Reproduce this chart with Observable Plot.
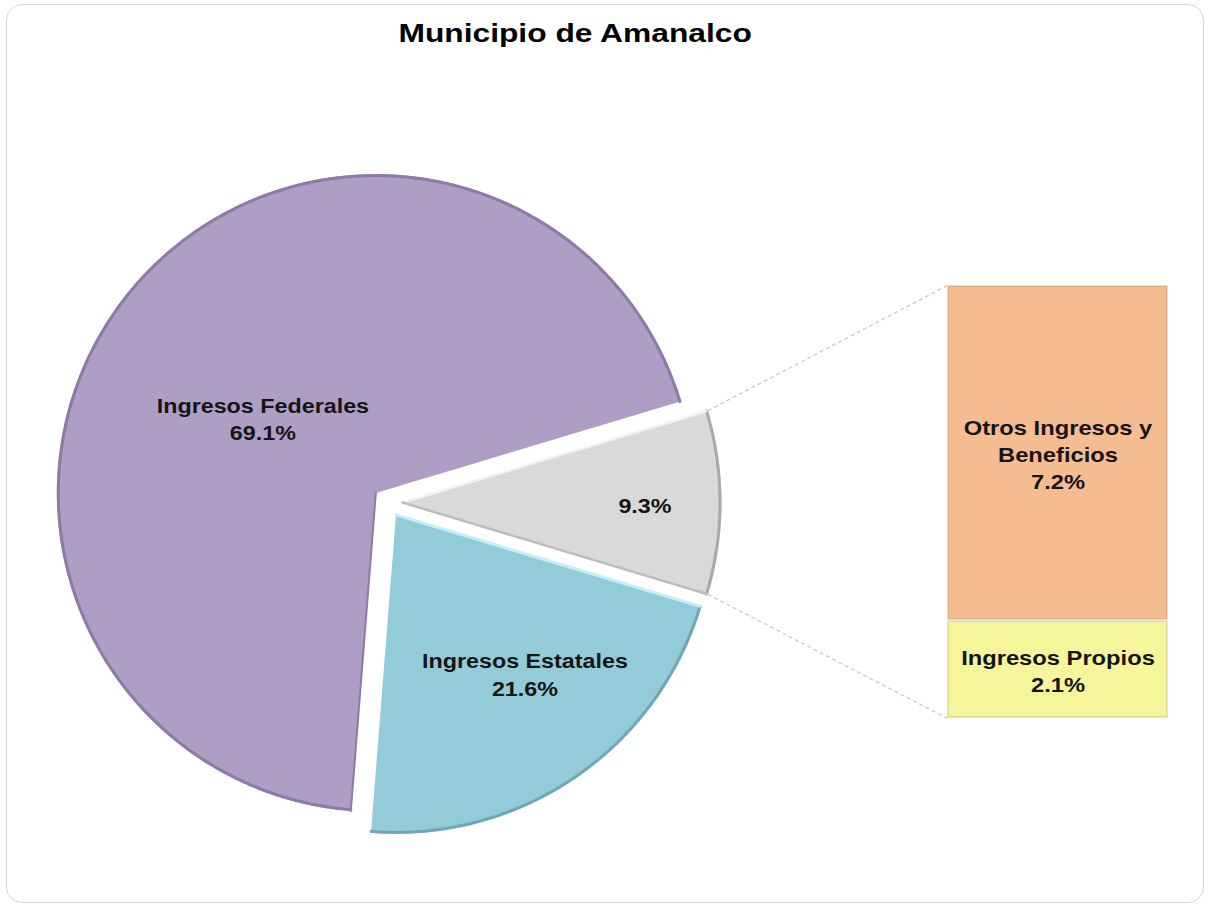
<!DOCTYPE html>
<html>
<head>
<meta charset="utf-8">
<script src="https://cdn.jsdelivr.net/npm/d3@7"></script>
<script src="https://cdn.jsdelivr.net/npm/@observablehq/plot@0.6"></script>
<style>
  html, body { margin: 0; padding: 0; background: #ffffff; }
  #wrap { position: relative; width: 1205px; height: 905px; overflow: hidden;
          font-family: "Liberation Sans", Arial, sans-serif; }
  #frame { position: absolute; left: 6px; top: 4px; width: 1198px; height: 899px;
           border: 1px solid #d6d6d6; border-radius: 16px; box-sizing: border-box;
           pointer-events: none; z-index: 5; }
  #title { position: absolute; top: 21px; left: 0; width: 1150px; height: 25px;
           line-height: 25px; text-align: center; font-weight: bold; font-size: 25px; color: #000; }
  #title span { display: inline-block; transform: scaleX(1.27); }
  #chart { position: absolute; left: 0; top: 60px; width: 1205px; height: 845px; }
  #chart svg { position: absolute; left: 0; top: 0; background: transparent !important; }
</style>
</head>
<body>
<div id="wrap">
  <div id="title"><span>Municipio de Amanalco</span></div>
  <div id="chart"></div>
  <div id="frame"></div>
</div>
<script>
// ---------------- data ----------------
const pieNames  = ["Ingresos Federales", "Ingresos Estatales", "Otros"];
const pieShares = [69.1, 21.6, 9.3];
const pieLabels = ["Ingresos Federales\n69.1%", "Ingresos Estatales\n21.6%", "9.3%"];
const pieColors = ["#ae9dc4", "#94cbd9", "#d9d9d8"];

const barNames  = ["Ingresos Propios", "Otros Ingresos y Beneficios"];
const barShares = [2.1, 7.2];
const barLabels = ["Ingresos Propios\n2.1%", "Otros Ingresos y\nBeneficios\n7.2%"];
const barColors = ["#f6f59b", "#f5bc92"];

// ---------------- layout ----------------
const W = 1205, H = 845, TOP = 60;
const CX = 387, CY = 502, R = 319, EXPLODE = 15;
const BAR_L = 947, BAR_R = 1168, BAR_T = 285, BAR_B = 718;
const labelRadius = [0.425, 0.64, 0.76];
const labelShift  = [-5.3, -4.8, 0.5];
const edgeColors  = ["#8d7ba6", "#6fa7b6", "#a9a9a9"];

const rad = Math.PI / 180;
const pt = (c, a, r) => ({x: c.x + r * Math.sin(a * rad), y: c.y - r * Math.cos(a * rad)});

// slices clockwise from north; "Otros" centred on 3 o'clock
const total = d3.sum(pieShares);
const order = [2, 1, 0];
let start = 90 - pieShares[2] / total * 180;
const slices = [];
for (const i of order) {
  const sweep = pieShares[i] / total * 360;
  const mid = start + sweep / 2;
  const apex = pt({x: CX, y: CY}, mid, EXPLODE);
  const arc = d3.range(start, start + sweep, 0.5).concat([start + sweep]).map(a => pt(apex, a, R));
  slices[i] = {a0: start, a1: start + sweep, mid, apex, arc, poly: [apex, ...arc]};
  start += sweep;
}

const marksA = [];
slices.forEach((s, i) => {
  marksA.push(Plot.line(s.poly, {x: "x", y: "y", fill: pieColors[i], stroke: "none", curve: "linear-closed"}));
});
// bevel-like edges
slices.forEach((s, i) => {
  const inner = s.arc.map((p, k) => pt(s.apex, s.a0 + (s.a1 - s.a0) * k / (s.arc.length - 1), R - 1.5));
  marksA.push(Plot.line(inner, {x: "x", y: "y", stroke: edgeColors[i], strokeWidth: 3}));
});
// radial edge highlights/shades
marksA.push(Plot.line([slices[0].apex, pt(slices[0].apex, slices[0].a0, R)], {x: "x", y: "y", stroke: "#8d7ba6", strokeWidth: 2}));
marksA.push(Plot.line([slices[1].apex, pt(slices[1].apex, slices[1].a0, R - 2)], {x: "x", y: "y", stroke: "#c4eef8", strokeWidth: 3}));
marksA.push(Plot.line([slices[2].apex, pt(slices[2].apex, slices[2].a0, R - 2)], {x: "x", y: "y", stroke: "#f3f3f3", strokeWidth: 2.5}));
marksA.push(Plot.line([slices[2].apex, pt(slices[2].apex, slices[2].a1, R - 2)], {x: "x", y: "y", stroke: "#bdbdbd", strokeWidth: 2.5}));

// connector lines from the "Otros" slice to the bar
const g = slices[2];
const gTop = pt(g.apex, g.a0, R), gBot = pt(g.apex, g.a1, R);
marksA.push(Plot.link([
  {x1: gTop.x, y1: gTop.y, x2: BAR_L, y2: BAR_T},
  {x1: gBot.x, y1: gBot.y, x2: BAR_L, y2: BAR_B}
], {x1: "x1", y1: "y1", x2: "x2", y2: "y2", stroke: "#c9c9c9", strokeWidth: 1.3, strokeDasharray: "4,3"}));

// pie labels
const labelData = slices.map((s, i) => {
  const p = pt(s.apex, s.mid + labelShift[i], R * labelRadius[i]);
  return {x: p.x, y: p.y, text: pieLabels[i]};
});
marksA.push(Plot.text(labelData, {x: "x", y: "y", text: "text", fontSize: 21, fontWeight: "bold",
  fontFamily: "Liberation Sans, Arial, sans-serif", fill: "#151515", lineHeight: 1.3, lineAnchor: "middle"}));

const plotA = Plot.plot({
  width: W, height: H, margin: 0,
  style: {background: "transparent", overflow: "visible"},
  x: {type: "linear", domain: [0, W], range: [0, W], axis: null},
  y: {type: "linear", domain: [TOP, TOP + H], range: [0, H], axis: null},
  marks: marksA
});

// ---------------- bar of the "Otros" slice ----------------
const barData = barNames.map((n, i) => ({name: n, value: barShares[i], label: barLabels[i]}));
const barTotal = d3.sum(barShares);
const plotB = Plot.plot({
  width: W, height: H, margin: 0,
  style: {background: "transparent", overflow: "visible"},
  x: {type: "band", domain: ["bar"], range: [BAR_L, BAR_R], padding: 0, axis: null},
  y: {type: "linear", domain: [0, barTotal], range: [BAR_B - TOP, BAR_T - TOP], axis: null},
  color: {domain: barNames, range: barColors},
  marks: [
    Plot.barY(barData, {x: d => "bar", y: "value", fill: "name", stroke: "#000", strokeOpacity: 0.1, strokeWidth: 2, inset: 1}),
    Plot.text(barData, Plot.stackY({x: d => "bar", y: "value", text: "label", fontSize: 21, fontWeight: "bold",
      fontFamily: "Liberation Sans, Arial, sans-serif", fill: "#151515", lineHeight: 1.3, lineAnchor: "middle"}))
  ]
});

const chart = document.getElementById("chart");
chart.appendChild(plotA);
chart.appendChild(plotB);

// dotted texture for the grey slice
const defs = d3.select(plotA).insert("defs", ":first-child");
const pat = defs.append("pattern").attr("id", "dots").attr("width", 4).attr("height", 4).attr("patternUnits", "userSpaceOnUse");
pat.append("rect").attr("width", 4).attr("height", 4).attr("fill", "#dadada");
pat.append("circle").attr("cx", 1).attr("cy", 1).attr("r", 0.7).attr("fill", "#cdcdcd");
d3.select(plotA).selectAll('[fill="#d9d9d8"]').attr("fill", "url(#dots)");

// widen the label glyphs horizontally like the original
function stretch(svg, s) {
  d3.select(svg).selectAll("text").each(function () {
    const t = this.getAttribute("transform");
    if (t) this.setAttribute("transform", t + ` scale(${s},1)`);
    else {
      const x = +this.getAttribute("x") || 0, y = +this.getAttribute("y") || 0;
      this.removeAttribute("x"); this.removeAttribute("y");
      this.setAttribute("transform", `translate(${x},${y}) scale(${s},1)`);
    }
  });
}
stretch(plotA, 1.11);
stretch(plotB, 1.13);
</script>
</body>
</html>
